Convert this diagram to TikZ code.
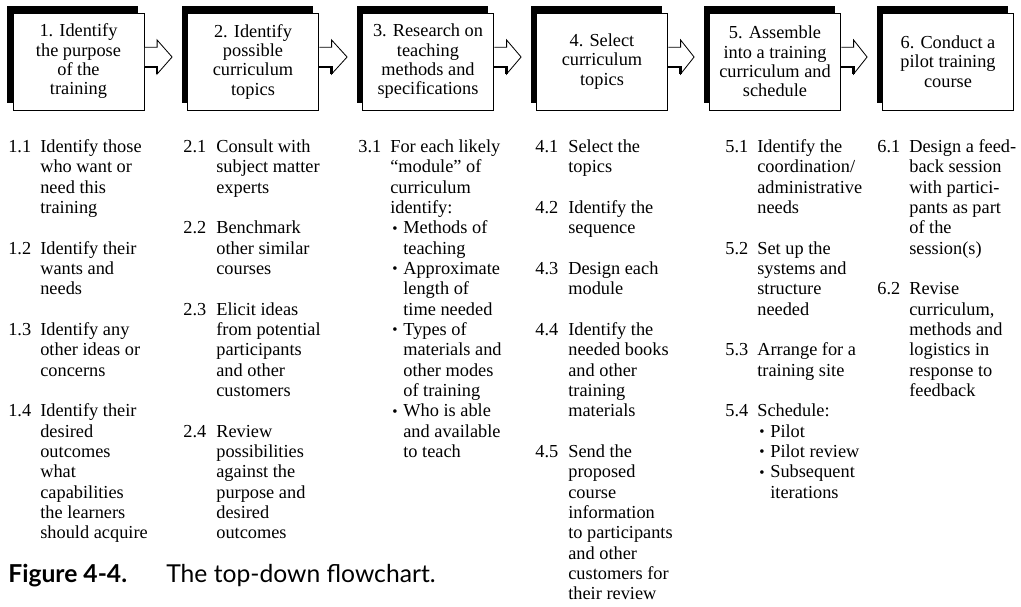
\documentclass[tikz,border=0pt]{standalone}
\usepackage{fontspec}
\setmainfont{Liberation Serif}
\newfontfamily\capfont{Lato}
\usetikzlibrary{calc,shadows}

\tikzset{
  stepbox/.style={draw, fill=white, line width=0.5pt,
    minimum width=78.6pt, minimum height=58.2pt, inner sep=2pt,
    align=center, font=\fontsize{11}{11.6}\selectfont,
    drop shadow={shadow xshift=-3.6pt, shadow yshift=4.2pt, opacity=1, fill=black}},
  flowarrow/.style={draw, fill=white, line width=0.5pt},
  taskcol/.style={anchor=base west, inner sep=0pt, font=\fontsize{11}{12.2}\selectfont},
}
% bullet and hanging indent inside the task lists
\newcommand{\bult}{\makebox[7.8pt][l]{\hspace{1.2pt}\raisebox{0.5pt}{\fontsize{9}{9}\selectfont\textbullet}}}
\newcommand{\bultind}{\hspace*{7.8pt}}

\begin{document}
\begin{tikzpicture}[x=0.6pt, y=-0.6pt]
  \useasboundingbox (0,0) rectangle (1021,606);

  % the six steps
  \foreach \i/\x/\txt in {1/78.5/{1. Identify\\the purpose\\of the\\training},
      2/253/{2. Identify\\possible\\curriculum\\topics},
      3/428/{3. Research on\\teaching\\methods and\\specifications},
      4/602/{4. Select\\curriculum\\topics},
      5/775/{5. Assemble\\into a training\\curriculum and\\schedule},
      6/948/{6. Conduct a\\pilot training\\course}}
    \node[stepbox] (b\i) at (\x,61.5) {\txt};

  % block arrows between steps
  \foreach \i/\j in {1/2,2/3,3/4,4/5,5/6} {
    \draw[flowarrow] ($(b\i.east)+(0.4,-14.2)$) -- ++(12.3,0) -- ++(0,-7.3)
      -- ($(b\j.west)+(-15,-4.5)$) -- ($(b\i.east)+(12.7,12.5)$) -- ++(0,-7.3) -- ++(-12.3,0);
    \draw[line width=1.4pt] ($(b\i.east)+(0.4,5.2)$) -- ++(12.3,0) -- ++(0,7.3);
  }

  % task lists under each step
  \node[taskcol] (c1) at (8,152.5) {\begin{tabular}[t]{@{}p{19.2pt}@{}l@{}}
    1.1 & Identify those\\
        & who want or\\
        & need this\\
        & training\\[12.2pt]
    1.2 & Identify their\\
        & wants and\\
        & needs\\[12.2pt]
    1.3 & Identify any\\
        & other ideas or\\
        & concerns\\[12.2pt]
    1.4 & Identify their\\
        & desired\\
        & outcomes\\
        & what\\
        & capabilities\\
        & the learners\\
        & should acquire
  \end{tabular}};

  \node[taskcol] (c2) at (183,152.5) {\begin{tabular}[t]{@{}p{19.8pt}@{}l@{}}
    2.1 & Consult with\\
        & subject matter\\
        & experts\\[12.2pt]
    2.2 & Benchmark\\
        & other similar\\
        & courses\\[12.2pt]
    2.3 & Elicit ideas\\
        & from potential\\
        & participants\\
        & and other\\
        & customers\\[12.2pt]
    2.4 & Review\\
        & possibilities\\
        & against the\\
        & purpose and\\
        & desired\\
        & outcomes
  \end{tabular}};

  \node[taskcol] (c3) at (358,152.5) {\begin{tabular}[t]{@{}p{19.2pt}@{}l@{}}
    3.1 & For each likely\\
        & “module” of\\
        & curriculum\\
        & identify:\\
        & \bult Methods of\\
        & \bultind teaching\\
        & \bult Approximate\\
        & \bultind length of\\
        & \bultind time needed\\
        & \bult Types of\\
        & \bultind materials and\\
        & \bultind other modes\\
        & \bultind of training\\
        & \bult Who is able\\
        & \bultind and available\\
        & \bultind to teach
  \end{tabular}};

  \node[taskcol] (c4) at (535,152.5) {\begin{tabular}[t]{@{}p{19.8pt}@{}l@{}}
    4.1 & Select the\\
        & topics\\[12.2pt]
    4.2 & Identify the\\
        & sequence\\[12.2pt]
    4.3 & Design each\\
        & module\\[12.2pt]
    4.4 & Identify the\\
        & needed books\\
        & and other\\
        & training\\
        & materials\\[12.2pt]
    4.5 & Send the\\
        & proposed\\
        & course\\
        & information\\
        & to participants\\
        & and other\\
        & customers for\\
        & their review
  \end{tabular}};

  \node[taskcol] (c5) at (725,152.5) {\begin{tabular}[t]{@{}p{19.2pt}@{}l@{}}
    5.1 & Identify the\\
        & coordination/\\
        & administrative\\
        & needs\\[12.2pt]
    5.2 & Set up the\\
        & systems and\\
        & structure\\
        & needed\\[12.2pt]
    5.3 & Arrange for a\\
        & training site\\[12.2pt]
    5.4 & Schedule:\\
        & \bult Pilot\\
        & \bult Pilot review\\
        & \bult Subsequent\\
        & \bultind iterations
  \end{tabular}};

  \node[taskcol] (c6) at (877,152.5) {\begin{tabular}[t]{@{}p{19.2pt}@{}l@{}}
    6.1 & Design a feed-\\
        & back session\\
        & with partici-\\
        & pants as part\\
        & of the\\
        & session(s)\\[12.2pt]
    6.2 & Revise\\
        & curriculum,\\
        & methods and\\
        & logistics in\\
        & response to\\
        & feedback
  \end{tabular}};

  % caption
  \node[anchor=base west, inner sep=0pt, font=\capfont\fontsize{14.8}{17}\selectfont]
    (caption) at (8,582) {\makebox[94.8pt][l]{\bfseries Figure 4-4.}The top-down flowchart.};
\end{tikzpicture}
\end{document}
